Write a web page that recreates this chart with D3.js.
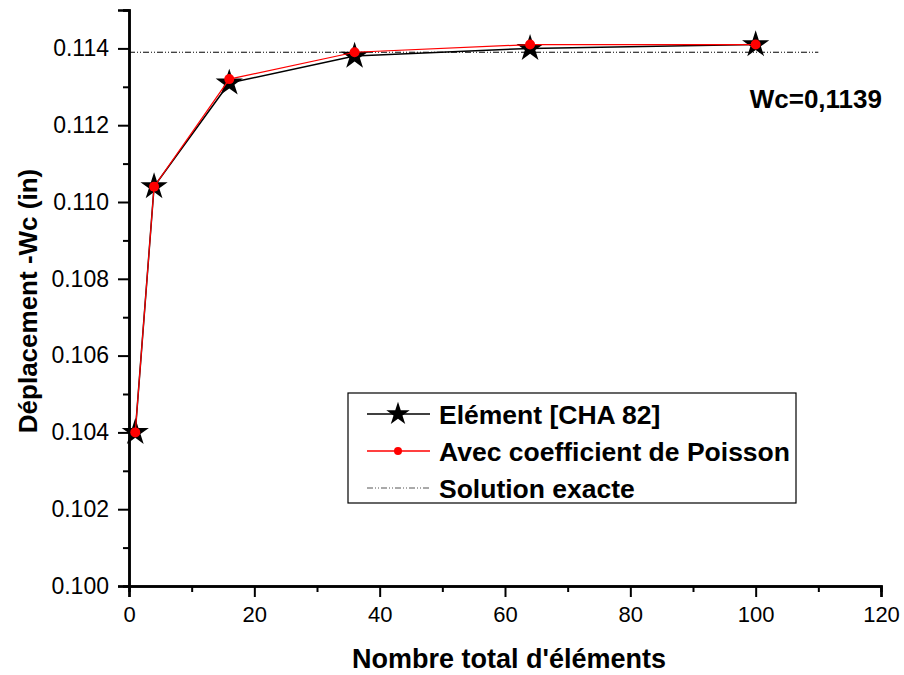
<!DOCTYPE html>
<html>
<head>
<meta charset="utf-8">
<script src="https://cdn.jsdelivr.net/npm/d3@7"></script>
<style>
  body { margin: 0; background: #fff; }
  svg { font-family: "Liberation Sans", Arial, sans-serif; }
</style>
</head>
<body>
<div id="chart"></div>
<script>
// number of elements
var elements = [1, 4, 16, 36, 64, 100];
// Elément [CHA 82]
var chaValues = [0.1040, 0.1104, 0.1131, 0.1138, 0.1140, 0.1141];
// Avec coefficient de Poisson
var poissonValues = [0.1040, 0.1104, 0.1132, 0.1139, 0.1141, 0.1141];
// exact solution
var exactValue = 0.1139;
var exactRange = [0, 110];
var xTicks = [0, 20, 40, 60, 80, 100, 120];
var xMinorTicks = [10, 30, 50, 70, 90, 110];
var yTicks = [0.100, 0.102, 0.104, 0.106, 0.108, 0.110, 0.112, 0.114];
var yMinorTicks = [0.101, 0.103, 0.105, 0.107, 0.109, 0.111, 0.113, 0.115];

var width = 904, height = 675;
var margin = {left: 129, right: 23, top: 10, bottom: 89};

var svg = d3.select("#chart").append("svg")
    .attr("width", width)
    .attr("height", height);

var x = d3.scaleLinear().domain([0, 120]).range([margin.left, width - margin.right]);
var y = d3.scaleLinear().domain([0.100, 0.115]).range([height - margin.bottom, margin.top]);

// axes
svg.append("g")
    .attr("class", "xaxis")
    .attr("transform", "translate(0," + y(0.100) + ")")
    .call(d3.axisBottom(x).tickValues(xTicks).tickSize(11).tickPadding(9).tickFormat(d3.format("d")));
svg.append("g")
    .attr("transform", "translate(0," + y(0.100) + ")")
    .call(d3.axisBottom(x).tickValues(xMinorTicks).tickSize(6).tickFormat(""));

svg.append("g")
    .attr("class", "yaxis")
    .attr("transform", "translate(" + x(0) + ",0)")
    .call(d3.axisLeft(y).tickValues(yTicks).tickSize(11).tickPadding(9).tickFormat(d3.format(".3f")));
svg.append("g")
    .attr("transform", "translate(" + x(0) + ",0)")
    .call(d3.axisLeft(y).tickValues(yMinorTicks).tickSize(6).tickFormat(""));

svg.selectAll(".domain").attr("stroke", "#000").attr("stroke-width", 2.5);
svg.selectAll(".tick line").attr("stroke", "#000").attr("stroke-width", 2);
svg.selectAll(".tick text").attr("fill", "#000")
    .style("font-family", "'Liberation Sans', Arial, sans-serif");
svg.selectAll(".xaxis .tick text").style("font-size", "22px");
svg.selectAll(".yaxis .tick text").style("font-size", "23px");

// axis titles
svg.append("text")
    .attr("x", 509)
    .attr("y", 668)
    .attr("text-anchor", "middle")
    .style("font-size", "27px")
    .style("font-weight", "bold")
    .text("Nombre total d'éléments");

svg.append("text")
    .attr("transform", "translate(37,301) rotate(-90)")
    .attr("text-anchor", "middle")
    .style("font-size", "26px")
    .style("font-weight", "bold")
    .text("Déplacement -Wc (in)");

// exact solution line
svg.append("line")
    .attr("x1", x(exactRange[0]))
    .attr("x2", x(exactRange[1]))
    .attr("y1", y(exactValue))
    .attr("y2", y(exactValue))
    .attr("stroke", "#000")
    .attr("stroke-width", 1)
    .attr("stroke-dasharray", "6,2,1,2,1,2");

var line = d3.line()
    .x(function (d) { return x(d[0]); })
    .y(function (d) { return y(d[1]); });

var chaData = elements.map(function (e, i) { return [e, chaValues[i]]; });
var poissonData = elements.map(function (e, i) { return [e, poissonValues[i]]; });

svg.append("path")
    .datum(chaData)
    .attr("d", line)
    .attr("fill", "none")
    .attr("stroke", "#000")
    .attr("stroke-width", 1.5);

var star = d3.symbol().type(d3.symbolStar).size(230);

svg.selectAll(".star")
    .data(chaData)
    .enter().append("path")
    .attr("class", "star")
    .attr("d", star)
    .attr("transform", function (d) { return "translate(" + x(d[0]) + "," + y(d[1]) + ")"; })
    .attr("fill", "#000");

svg.append("path")
    .datum(poissonData)
    .attr("d", line)
    .attr("fill", "none")
    .attr("stroke", "#ff0000")
    .attr("stroke-width", 1.2);

svg.selectAll(".dot")
    .data(poissonData)
    .enter().append("circle")
    .attr("class", "dot")
    .attr("cx", function (d) { return x(d[0]); })
    .attr("cy", function (d) { return y(d[1]); })
    .attr("r", 5)
    .attr("fill", "#ff0000");

// annotation
svg.append("text")
    .attr("x", 882)
    .attr("y", 108)
    .attr("text-anchor", "end")
    .style("font-size", "26px")
    .style("font-weight", "bold")
    .text("Wc=0,1139");

// legend
var legend = svg.append("g").attr("transform", "translate(348,393)");
legend.append("rect")
    .attr("width", 448)
    .attr("height", 110)
    .attr("fill", "#fff")
    .attr("stroke", "#000")
    .attr("stroke-width", 1.2);

var legendRows = [
    {label: "Elément [CHA 82]", type: "star"},
    {label: "Avec coefficient de Poisson", type: "dot"},
    {label: "Solution exacte", type: "exact"}
];

var row = legend.selectAll(".lrow")
    .data(legendRows)
    .enter().append("g")
    .attr("transform", function (d, i) { return "translate(0," + (21 + i * 37) + ")"; });

row.append("line")
    .attr("x1", 19).attr("x2", 82)
    .attr("stroke", function (d) { return d.type == "dot" ? "#ff0000" : (d.type == "exact" ? "#555" : "#000"); })
    .attr("stroke-width", function (d) { return d.type == "exact" ? 1 : 1.3; })
    .attr("stroke-dasharray", function (d) { return d.type == "exact" ? "6,2,1,2,1,2" : null; });

row.filter(function (d) { return d.type == "star"; })
    .append("path")
    .attr("d", d3.symbol().type(d3.symbolStar).size(170))
    .attr("transform", "translate(50,0)")
    .attr("fill", "#000");

row.filter(function (d) { return d.type == "dot"; })
    .append("circle")
    .attr("cx", 50)
    .attr("r", 4)
    .attr("fill", "#ff0000");

row.append("text")
    .attr("x", 91)
    .attr("dy", "0.36em")
    .style("font-size", "26.5px")
    .style("font-weight", "bold")
    .text(function (d) { return d.label; });
</script>
</body>
</html>
